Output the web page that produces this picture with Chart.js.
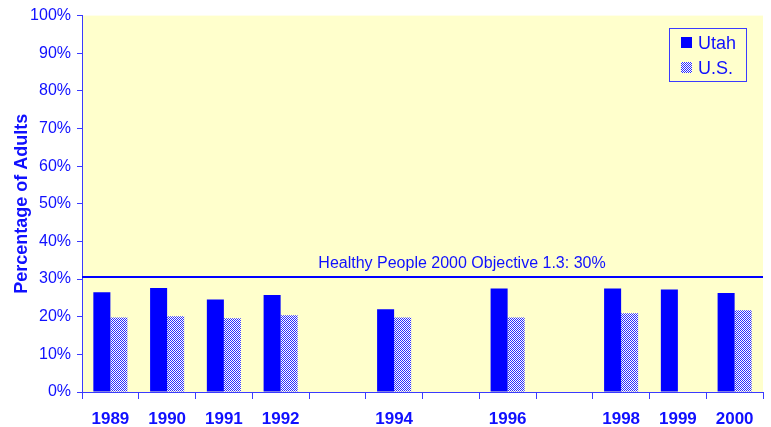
<!DOCTYPE html>
<html>
<head>
<meta charset="utf-8">
<script src="https://cdn.jsdelivr.net/npm/chart.js@4/dist/chart.umd.min.js"></script>
<style>
  html, body { margin: 0; padding: 0; background: #fff; }
  #wrap { width: 771px; height: 427px; }
</style>
</head>
<body>
<div id="wrap"><canvas id="chart" width="771" height="427"></canvas></div>
<script>
// Data
const years = ['1989', '1990', '1991', '1992', '1993', '1994', '1995', '1996', '1997', '1998', '1999', '2000'];
const utah = [26.5, 27.6, 24.6, 25.8, null, 22.0, null, 27.5, null, 27.5, 27.2, 26.3];
const us = [19.8, 20.1, 19.6, 20.4, null, 19.8, null, 19.8, null, 20.9, null, 21.7];
const objectiveValue = 30;
const objectiveLabel = 'Healthy People 2000 Objective 1.3: 30%';

const BLUE = '#0000ff';
const TEXT = '#1010ff';
const AXIS = '#3a3aff';
const PLOT_BG = '#ffffcc';
const FONT = '"Liberation Sans", Arial, sans-serif';

// dithered fill for U.S. bars
function makePattern() {
  const c = document.createElement('canvas');
  c.width = 2; c.height = 2;
  const ctx = c.getContext('2d');
  ctx.fillStyle = '#ffffff';
  ctx.fillRect(0, 0, 2, 2);
  ctx.fillStyle = '#2a2aff';
  ctx.fillRect(0, 0, 1, 1);
  ctx.fillRect(1, 1, 1, 1);
  return ctx.createPattern(c, 'repeat');
}
const usPattern = makePattern();

const plotBackground = {
  id: 'plotBackground',
  beforeDraw(chart) {
    const { ctx, chartArea: a } = chart;
    ctx.save();
    ctx.fillStyle = PLOT_BG;
    ctx.fillRect(a.left, a.top, a.right - a.left, a.bottom - a.top);
    ctx.restore();
  }
};

const objectiveLine = {
  id: 'objectiveLine',
  afterDatasetsDraw(chart) {
    const { ctx, chartArea: a, scales } = chart;
    const y = scales.y.getPixelForValue(objectiveValue) - 2;
    ctx.save();
    ctx.strokeStyle = BLUE;
    ctx.lineWidth = 2;
    ctx.beginPath();
    ctx.moveTo(a.left, y);
    ctx.lineTo(a.right, y);
    ctx.stroke();
    ctx.fillStyle = TEXT;
    ctx.font = '16px ' + FONT;
    ctx.textAlign = 'center';
    ctx.textBaseline = 'middle';
    ctx.fillText(objectiveLabel, 462, y - 13);
    ctx.restore();
  }
};

const boxLegend = {
  id: 'boxLegend',
  afterDraw(chart) {
    const { ctx } = chart;
    const x = 669, y = 28, w = 77, h = 53;
    ctx.save();
    ctx.strokeStyle = AXIS;
    ctx.lineWidth = 1;
    ctx.strokeRect(x + 0.5, y + 0.5, w, h);
    const items = [
      { label: 'Utah', fill: BLUE },
      { label: 'U.S.', fill: usPattern }
    ];
    ctx.font = '18px ' + FONT;
    ctx.textBaseline = 'middle';
    ctx.textAlign = 'left';
    items.forEach((it, i) => {
      const cy = y + 15 + i * 25;
      ctx.fillStyle = it.fill;
      ctx.fillRect(x + 12, cy - 6, 11, 11);
      ctx.fillStyle = TEXT;
      ctx.fillText(it.label, x + 29, cy + 1);
    });
    ctx.restore();
  }
};

new Chart(document.getElementById('chart').getContext('2d'), {
  type: 'bar',
  data: {
    labels: years,
    datasets: [
      { label: 'Utah', data: utah, backgroundColor: BLUE, categoryPercentage: 0.6, barPercentage: 1 },
      { label: 'U.S.', data: us, backgroundColor: usPattern, categoryPercentage: 0.6, barPercentage: 1 }
    ]
  },
  options: {
    responsive: false,
    animation: false,
    layout: { padding: { top: 14, right: 8, left: 11, bottom: 0 } },
    scales: {
      x: {
        grid: { offset: true, drawOnChartArea: false, tickLength: 7, color: AXIS },
        border: { color: AXIS },
        ticks: {
          color: TEXT,
          font: { family: FONT, size: 17, weight: 'bold' },
          maxRotation: 0,
          autoSkip: false,
          padding: 10,
          callback(v, i) {
            return (utah[i] == null && us[i] == null) ? '' : years[i];
          }
        },
        afterFit(s) { s.height = 35; }
      },
      y: {
        min: 0, max: 100,
        grid: { drawOnChartArea: false, tickLength: 5, color: AXIS },
        border: { color: AXIS },
        ticks: {
          stepSize: 10,
          color: TEXT,
          padding: 6,
          font: { family: FONT, size: 16 },
          callback: v => v + '%'
        },
        title: {
          display: true,
          text: 'Percentage of Adults',
          color: TEXT,
          padding: { top: 0, bottom: 0 },
          font: { family: FONT, size: 18, weight: 'bold' }
        },
        afterFit(s) { s.width = 71; }
      }
    },
    plugins: {
      legend: { display: false },
      tooltip: { enabled: false }
    }
  },
  plugins: [plotBackground, objectiveLine, boxLegend]
});
</script>
</body>
</html>
